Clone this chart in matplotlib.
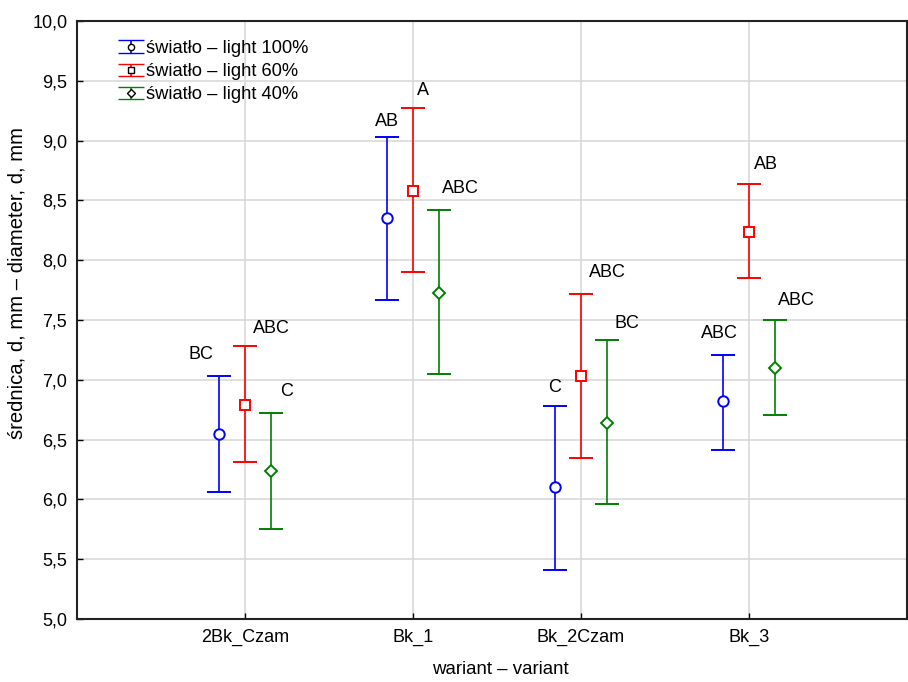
import numpy as np
import matplotlib
matplotlib.use("Agg")
import matplotlib.pyplot as plt
from matplotlib.ticker import FuncFormatter, MultipleLocator
from matplotlib.legend_handler import HandlerErrorbar

plt.rcParams['font.family'] = ['Liberation Sans', 'DejaVu Sans']

# dane
warianty = ['2Bk_Czam', 'Bk_1', 'Bk_2Czam', 'Bk_3']
serie = ['światło – light 100%', 'światło – light 60%', 'światło – light 40%']

srednia_100 = [6.55, 8.35, 6.10, 6.82]
dolna_100 = [6.06, 7.67, 5.41, 6.41]
gorna_100 = [7.03, 9.03, 6.78, 7.21]

srednia_60 = [6.79, 8.58, 7.03, 8.24]
dolna_60 = [6.31, 7.90, 6.35, 7.85]
gorna_60 = [7.28, 9.27, 7.72, 8.64]

srednia_40 = [6.24, 7.73, 6.64, 7.10]
dolna_40 = [5.75, 7.05, 5.96, 6.71]
gorna_40 = [6.72, 8.42, 7.33, 7.50]

# litery grup jednorodnych
litery_100 = ['BC', 'AB', 'C', 'ABC']
litery_60 = ['ABC', 'A', 'ABC', 'AB']
litery_40 = ['C', 'ABC', 'BC', 'ABC']

kolory = ['#0000ff', '#ff0000', '#008000']
markery = ['o', 's', 'D']
przesuniecia = [-0.155, 0.0, 0.155]

# pozycje liter wzgledem wasow (x w jednostkach osi, y w jednostkach danych)
litery_dx = [[-0.11, 0.0, 0.0, -0.02], [0.16, 0.06, 0.16, 0.10], [0.09, 0.13, 0.12, 0.13]]
litery_dy = [[0.18, 0.13, 0.16, 0.18], [0.15, 0.15, 0.18, 0.16], [0.18, 0.18, 0.14, 0.16]]

fig = plt.figure(figsize=(9.08, 6.82), dpi=100)
ax = fig.add_axes([0.0848, 0.0924, 0.914, 0.8766])

x = np.arange(1, len(warianty) + 1)
dane = [(srednia_100, dolna_100, gorna_100, litery_100),
        (srednia_60, dolna_60, gorna_60, litery_60),
        (srednia_40, dolna_40, gorna_40, litery_40)]

for i, (sr, dl, gr, lit) in enumerate(dane):
    sr = np.array(sr)
    dl = np.array(dl)
    gr = np.array(gr)
    xs = x + przesuniecia[i]
    ms = 7.5 if markery[i] != 'D' else 6
    ax.errorbar(xs, sr, yerr=[sr - dl, gr - sr], fmt=markery[i], color=kolory[i],
                mfc='white', mec=kolory[i], mew=1.4, ms=ms, elinewidth=1.2,
                capsize=8.5, capthick=1.2, zorder=3)
    for j in range(len(xs)):
        ax.text(xs[j] + litery_dx[i][j], gr[j] + litery_dy[i][j], lit[j],
                ha='center', va='center', fontsize=13)

# legenda - znaczniki czarne, wasy kolorowe
uchwyty = []
for i in range(3):
    h = ax.errorbar([np.nan], [np.nan], yerr=[[np.nan], [np.nan]], fmt=markery[i],
                    color=kolory[i], mfc='white', mec='black', mew=1.0, ms=4.5,
                    elinewidth=1.2, capsize=9.5, capthick=1.2)
    uchwyty.append(h)
ax.legend(uchwyty, serie, loc='upper left', bbox_to_anchor=(0.032, 0.99),
          frameon=False, fontsize=13.2, handlelength=1.55, handletextpad=0.05,
          labelspacing=0.33, borderaxespad=0.3,
          handler_map={type(uchwyty[0]): HandlerErrorbar(yerr_size=0.33)})

ax.set_xlim(0, 4.94)
ax.set_ylim(5.0, 10.0)
ax.set_xticks(x)
ax.set_xticklabels(warianty, fontsize=13)
ax.yaxis.set_major_locator(MultipleLocator(0.5))
ax.yaxis.set_major_formatter(FuncFormatter(lambda v, p: ('%.1f' % v).replace('.', ',')))
ax.tick_params(axis='y', labelsize=13)
ax.tick_params(direction='in', length=4, width=1, pad=7)
ax.grid(True, color='#d9d9d9', linewidth=1.2, zorder=0)
ax.set_axisbelow(True)
for s in ax.spines.values():
    s.set_linewidth(1.5)
    s.set_color('#222222')

ax.set_xlabel('wariant – variant', fontsize=13.4)
ax.xaxis.set_label_coords(0.51, -0.07)
ax.set_ylabel('średnica, d, mm – diameter, d, mm', fontsize=14.6)
ax.yaxis.set_label_coords(-0.061, 0.562)

fig.savefig('out.png', dpi=100)
